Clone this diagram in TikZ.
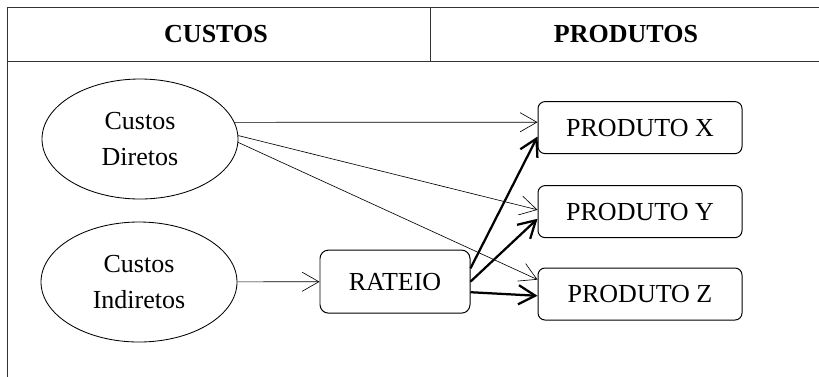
\documentclass[tikz,border=0pt]{standalone}
\usepackage{fontspec}
\setmainfont{Liberation Serif}
\usetikzlibrary{arrows.meta, positioning, shapes.geometric}

\begin{document}
\begin{tikzpicture}[
  custo/.style={ellipse, draw, line width=0.6pt, minimum width=4.9cm, minimum height=3cm, inner sep=0pt, align=center, font=\fontsize{18.5}{25}\selectfont},
  prod/.style={rectangle, draw, line width=0.7pt, rounded corners=5pt, minimum width=5.1cm, minimum height=1.3cm, font=\fontsize{18.5}{25}\selectfont},
  head/.style={font=\fontsize{18.5}{25}\selectfont\bfseries},
  direto/.style={->, line width=0.45pt},
  rateio/.style={->, line width=1.6pt},
  >={Straight Barb[length=4.2mm, width=4.8mm]}
]
  \useasboundingbox (0,0) rectangle (20.475,-9.4);

  % quadro
  \draw[black!80, line width=0.7pt] (0.175,-9.6) -- (0.175,-0.175) -- (20.7,-0.175);
  \draw[black!80, line width=0.7pt] (0.175,-1.525) -- (20.7,-1.525);
  \draw[black!80, line width=0.7pt] (10.75,-0.175) -- (10.75,-1.525);
  \node[head] (hc) at (5.4,-0.85)  {CUSTOS};
  \node[head] (hp) at (15.65,-0.85) {PRODUTOS};

  \node[custo] (CD) at (3.5,-3.475) {Custos\\Diretos};
  \node[custo] (CI) at (3.475,-7.05) {Custos\\Indiretos};
  \node[prod, minimum width=3.75cm, minimum height=1.575cm, rounded corners=6pt] (R) at (9.875,-7.04) {RATEIO};
  \node[prod] (X) at (16,-3.19) {PRODUTO X};
  \node[prod] (Y) at (16,-5.29) {PRODUTO Y};
  \node[prod] (Z) at (16,-7.35) {PRODUTO Z};

  \draw[direto] (CD.10)  -- (X.177);
  \draw[direto] (CD.2)   -- (Y.179);
  \draw[direto] (CD.358) -- (Z.172);
  \draw[direto] (CI) -- (R);
  \draw[rateio] (R.10)  -- (X.185);
  \draw[rateio] (R.0)   -- (Y.184);
  \draw[rateio] (R.352) -- (Z.181);
\end{tikzpicture}
\end{document}
